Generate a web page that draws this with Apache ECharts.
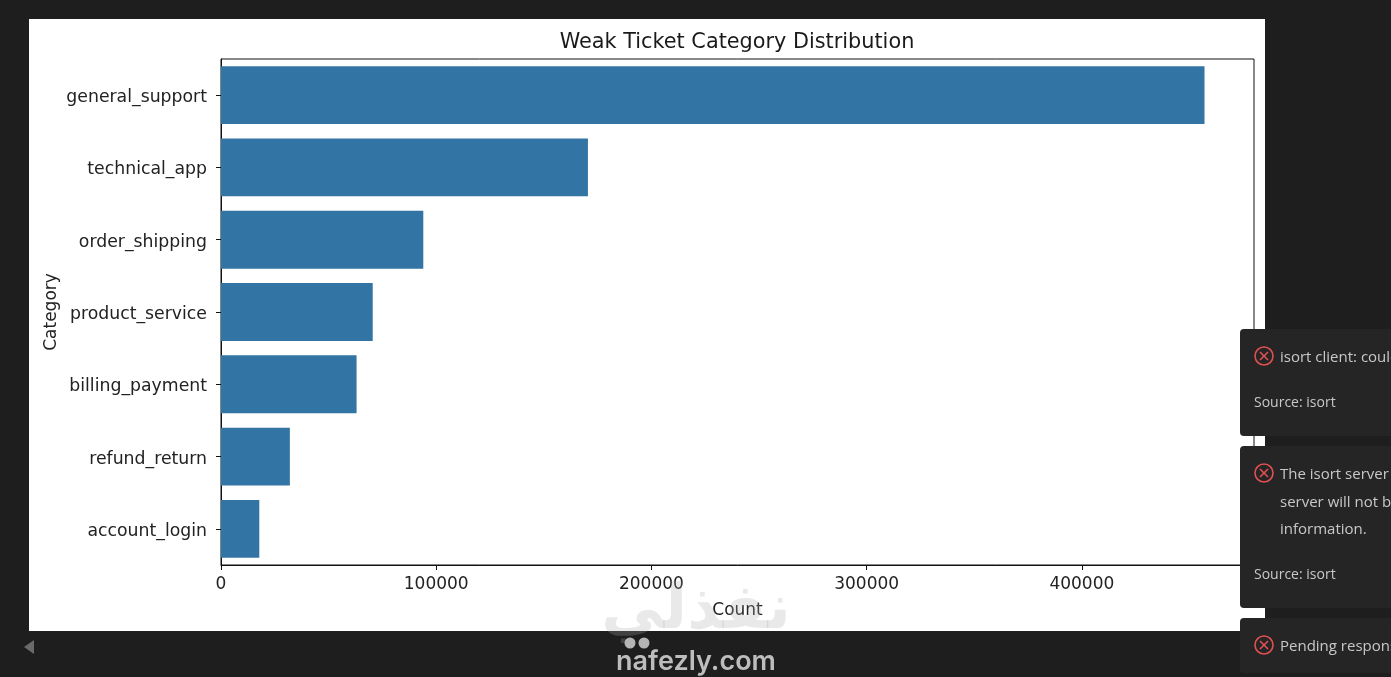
<!DOCTYPE html>
<html><head><meta charset="utf-8">
<style>html,body{margin:0;padding:0;background:#1e1e1e;overflow:hidden}#c{width:1391px;height:677px}</style>
<script src="https://cdn.jsdelivr.net/npm/echarts@6/dist/echarts.min.js"></script>
</head><body><div id="c"></div>
<script>
const categories = ['general_support','technical_app','order_shipping','product_service','billing_payment','refund_return','account_login'];
const counts = [457000,170500,94000,70500,63000,32000,17800];
const xTicks = [0,100000,200000,300000,400000];

const F = 'DejaVu Sans';
const UI = '"Open Sans","Noto Sans",sans-serif';
const TOAST = '#252526', TXT = '#c8c8c8', RED = '#e25050';

function toast(y, h, lines, src){
  const g = [
    {type:'rect',z:50,shape:{x:1240,y:y,width:160,height:h,r:4},style:{fill:TOAST}},
    {type:'circle',z:51,shape:{cx:1264,cy:y+27,r:9},style:{fill:'none',stroke:RED,lineWidth:1.6}},
    {type:'line',z:51,shape:{x1:1260,y1:y+23,x2:1268,y2:y+31},style:{stroke:RED,lineWidth:1.6}},
    {type:'line',z:51,shape:{x1:1268,y1:y+23,x2:1260,y2:y+31},style:{stroke:RED,lineWidth:1.6}}
  ];
  lines.forEach((t,i)=>g.push({type:'text',z:51,x:1280,y:y+29+i*27.5,style:{text:t,fill:TXT,font:'15px '+UI,textVerticalAlign:'middle'}}));
  if(src) g.push({type:'text',z:51,x:1254,y:y+h-33,style:{text:src,fill:TXT,font:'14px '+UI,textVerticalAlign:'middle'}});
  return g;
}

const chart = echarts.init(document.getElementById('c'),null,{renderer:'canvas'});
chart.setOption({
  backgroundColor:'#1e1e1e',
  animation:false,
  title:{text:'Weak Ticket Category Distribution',left:732,top:38,textAlign:'center',textVerticalAlign:'middle',
    textStyle:{fontFamily:F,fontSize:20.8,fontWeight:'normal',color:'#1a1a1a'}},
  grid:{left:221,top:59,width:1033,height:506,show:true,borderColor:'#111',borderWidth:1},
  xAxis:{type:'value',min:0,max:480000,interval:100000,
    name:'Count',nameLocation:'middle',nameGap:37,
    nameTextStyle:{fontFamily:F,fontSize:17,color:'#222'},
    axisLine:{show:true,lineStyle:{color:'#111',width:1}},
    axisTick:{show:true,length:5,lineStyle:{color:'#111'}},
    axisLabel:{fontFamily:F,fontSize:17,color:'#222',margin:11,showMaxLabel:false,
      formatter:v=>xTicks.includes(v)?String(v):''},
    splitLine:{show:false}},
  yAxis:{type:'category',inverse:true,data:categories,
    name:'Category',nameLocation:'middle',nameGap:161,nameRotate:90,nameMoveOverlap:false,
    nameTextStyle:{fontFamily:F,fontSize:17,color:'#222'},
    axisLine:{show:true,lineStyle:{color:'#111',width:1}},
    axisTick:{show:true,alignWithLabel:true,length:5,lineStyle:{color:'#111'}},
    axisLabel:{margin:14,formatter:v=>'{a|'+v+'}',
      rich:{a:{fontFamily:F,fontSize:17.3,color:'#222',padding:[5,0,0,0]}}},
    splitLine:{show:false}},
  series:[{type:'bar',data:counts,barWidth:'80%',itemStyle:{color:'#3274a3'},silent:true,z:2}],
  graphic:[
    {type:'rect',z:-1,silent:true,shape:{x:29,y:19,width:1236,height:612},style:{fill:'#fff'}},
    {type:'polygon',z:40,shape:{points:[[24,647],[34,640],[34,654]]},style:{fill:'#6a6a6a'}},
    {type:'text',z:40,x:696,y:612,style:{text:'نفذلي',fill:'rgba(170,170,170,0.26)',font:'bold 62px "DejaVu Sans"',textAlign:'center',textVerticalAlign:'middle'}},
    {type:'circle',z:40,shape:{cx:630,cy:643,r:5.5},style:{fill:'#b5b5b5'}},
    {type:'circle',z:40,shape:{cx:644,cy:643,r:5.5},style:{fill:'#b5b5b5'}},
    {type:'text',z:40,x:696,y:662,style:{text:'nafezly.com',fill:'#bdbdbd',font:'600 27px Inter',textAlign:'center',textVerticalAlign:'middle'}},
    ...toast(329,107,['isort client: couldn\'t create connection'],'Source: isort'),
    ...toast(446,162,['The isort server crashed 5 times','server will not be restarted. See the output for more','information.'],'Source: isort'),
    ...toast(618,55,['Pending response rejected'],null)
  ]
});
</script></body></html>
